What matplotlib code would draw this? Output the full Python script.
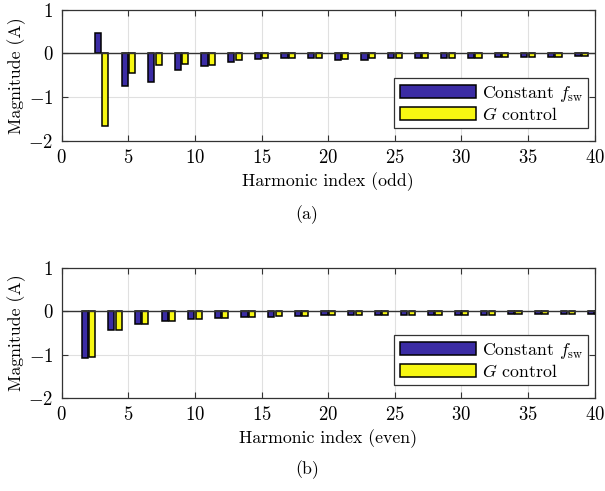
import matplotlib
matplotlib.use('Agg')
import matplotlib.pyplot as plt
import numpy as np

plt.rcParams['font.family'] = 'serif'
plt.rcParams['font.serif'] = ['cmr10', 'DejaVu Serif']
plt.rcParams['mathtext.fontset'] = 'cm'
plt.rcParams['axes.unicode_minus'] = False
plt.rcParams['axes.formatter.use_mathtext'] = True

# odd harmonics (3..39)
odd_h = list(range(3, 40, 2))
odd_const = [0.47, -0.74, -0.66, -0.38, -0.29, -0.20, -0.12, -0.11, -0.10, -0.14,
             -0.14, -0.10, -0.11, -0.10, -0.10, -0.08, -0.08, -0.08, -0.07]
odd_g = [-1.66, -0.46, -0.27, -0.24, -0.26, -0.14, -0.11, -0.11, -0.11, -0.12,
         -0.11, -0.11, -0.11, -0.11, -0.11, -0.08, -0.08, -0.08, -0.06]

# even harmonics (2..40)
even_h = list(range(2, 41, 2))
even_const = [-1.08, -0.43, -0.29, -0.22, -0.18, -0.15, -0.13, -0.12, -0.11, -0.09,
              -0.09, -0.09, -0.09, -0.08, -0.07, -0.07, -0.06, -0.06, -0.06, -0.05]
even_g = [-1.05, -0.42, -0.28, -0.22, -0.18, -0.15, -0.12, -0.11, -0.10, -0.08,
          -0.08, -0.08, -0.08, -0.07, -0.07, -0.07, -0.06, -0.06, -0.06, -0.05]

xticks = [0, 5, 10, 15, 20, 25, 30, 35, 40]
yticks = [-2, -1, 0, 1]

blue = '#3b2ca4'
yellow = '#f7f712'
off = 0.28
w = 0.46
fs = 12.8
tfs = 13.5


def draw(ax, h, a, b, xlabel):
    h = np.array(h)
    ax.bar(h - off, a, width=w, color=blue, edgecolor='black', linewidth=1.1,
           label=r'Constant $f_{\rm sw}$', zorder=3)
    ax.bar(h + off, b, width=w, color=yellow, edgecolor='black', linewidth=1.1,
           label=r'$G$ control', zorder=3)
    ax.axhline(0, color='#333333', linewidth=1.0, zorder=4)
    ax.set_xlim(0, 40)
    ax.set_ylim(-2, 1)
    ax.set_xticks(xticks)
    ax.set_yticks(yticks)
    ax.grid(True, color='#e0e0e0', linewidth=0.8, zorder=0)
    ax.tick_params(direction='in', top=True, right=True, labelsize=tfs,
                   length=4, color='#333333', pad=6)
    for s in ax.spines.values():
        s.set_color('#333333')
        s.set_linewidth(0.9)
    ax.set_xlabel(xlabel, fontsize=fs, labelpad=4)
    ax.set_ylabel('Magnitude (A)', fontsize=fs)
    ax.yaxis.set_label_coords(-0.067, 0.5)
    leg = ax.legend(loc='lower right', fontsize=fs, handlelength=4.3,
                    handleheight=0.8, handletextpad=0.3, borderpad=0.3,
                    labelspacing=0.12, borderaxespad=0, fancybox=False,
                    edgecolor='#333333', framealpha=1,
                    bbox_to_anchor=(0.988, 0.097))
    leg.get_frame().set_linewidth(0.9)


fig = plt.figure(figsize=(6.05, 4.91), dpi=100)
ax1 = fig.add_axes([0.102, 0.7134, 0.881, 0.2668])
ax2 = fig.add_axes([0.102, 0.19, 0.881, 0.2634])

draw(ax1, odd_h, odd_const, odd_g, 'Harmonic index (odd)')
draw(ax2, even_h, even_const, even_g, 'Harmonic index (even)')

fig.text(0.507, 1 - 215 / 491, '(a)', ha='center', va='center', fontsize=fs)
fig.text(0.507, 1 - 470 / 491, '(b)', ha='center', va='center', fontsize=fs)

fig.savefig('out.png', dpi=100)
